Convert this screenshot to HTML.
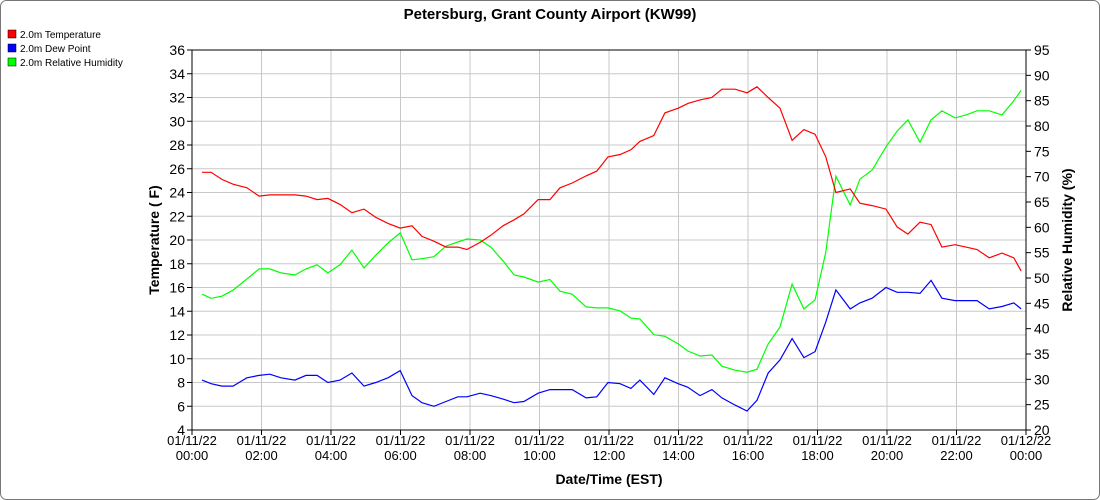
<!DOCTYPE html>
<html><head><meta charset="utf-8"><style>
html,body{margin:0;padding:0;background:#fff;}
svg{display:block;font-family:"Liberation Sans",sans-serif;}
</style></head><body>
<svg id="chart" width="1100" height="500" viewBox="0 0 1100 500" xmlns="http://www.w3.org/2000/svg">
<rect x="0.5" y="0.5" width="1099" height="499" rx="6" fill="#fff" stroke="#777"/>
<text x="550" y="19" text-anchor="middle" font-size="15" font-weight="bold">Petersburg, Grant County Airport (KW99)</text>
<g font-size="10">
<g><rect x="8" y="30" width="8" height="8" fill="#f00" stroke="#000" stroke-width="0.5"/><text x="20" y="38">2.0m Temperature</text></g>
<g><rect x="8" y="44" width="8" height="8" fill="#00f" stroke="#000" stroke-width="0.5"/><text x="20" y="52">2.0m Dew Point</text></g>
<g><rect x="8" y="58" width="8" height="8" fill="#0f0" stroke="#000" stroke-width="0.5"/><text x="20" y="66">2.0m Relative Humidity</text></g>
</g>
<g id="grid"></g><g id="axes"></g><g id="series"></g>
<text x="609" y="484" text-anchor="middle" font-size="14" font-weight="bold">Date/Time (EST)</text>
<text transform="translate(159,240) rotate(-90)" text-anchor="middle" font-size="14" font-weight="bold">Temperature ( F)</text>
<text transform="translate(1072,240) rotate(-90)" text-anchor="middle" font-size="14" font-weight="bold">Relative Humidity (%)</text>
</svg>
<script>
const hours=[0.29,0.55,0.86,1.18,1.58,1.93,2.24,2.56,2.96,3.28,3.60,3.91,4.26,4.60,4.95,5.29,5.64,5.99,6.33,6.62,6.96,7.31,7.65,7.91,8.29,8.60,8.95,9.27,9.55,9.96,10.30,10.59,10.94,11.34,11.65,11.97,12.32,12.63,12.89,13.29,13.61,13.99,14.27,14.62,14.96,15.25,15.63,15.97,16.26,16.58,16.92,17.27,17.61,17.93,18.24,18.53,18.94,19.22,19.57,19.97,20.29,20.60,20.95,21.27,21.58,21.96,22.27,22.59,22.94,23.31,23.65,23.86];
const temperature=[25.7,25.7,25.1,24.7,24.4,23.7,23.8,23.8,23.8,23.7,23.4,23.5,23.0,22.3,22.6,21.9,21.4,21.0,21.2,20.3,19.9,19.4,19.4,19.2,19.8,20.4,21.2,21.7,22.2,23.4,23.4,24.4,24.8,25.4,25.8,27.0,27.2,27.6,28.3,28.8,30.7,31.1,31.5,31.8,32.0,32.7,32.7,32.4,32.9,32.0,31.1,28.4,29.3,28.9,27.0,24.0,24.3,23.1,22.9,22.6,21.1,20.5,21.5,21.3,19.4,19.6,19.4,19.2,18.5,18.9,18.5,17.4];
const dewPoint=[8.2,7.9,7.7,7.7,8.4,8.6,8.7,8.4,8.2,8.6,8.6,8.0,8.2,8.8,7.7,8.0,8.4,9.0,6.9,6.3,6.0,6.4,6.8,6.8,7.1,6.9,6.6,6.3,6.4,7.1,7.4,7.4,7.4,6.7,6.8,8.0,7.9,7.5,8.2,7.0,8.4,7.9,7.6,6.9,7.4,6.7,6.1,5.6,6.5,8.8,9.9,11.7,10.1,10.6,13.1,15.8,14.2,14.7,15.1,16.0,15.6,15.6,15.5,16.6,15.1,14.9,14.9,14.9,14.2,14.4,14.7,14.2];
const humidity=[46.8,46.0,46.4,47.6,49.8,51.8,51.8,51.0,50.6,51.8,52.6,51.0,52.6,55.5,52.0,54.5,56.9,58.9,53.6,53.8,54.2,56.3,57.1,57.7,57.5,56.1,53.4,50.6,50.2,49.2,49.7,47.4,46.8,44.3,44.1,44.1,43.5,42.1,41.9,38.8,38.5,37.0,35.6,34.6,34.8,32.6,31.8,31.4,32.0,37.0,40.3,48.8,43.9,45.7,55.1,70.1,64.4,69.5,71.3,75.9,79.0,81.2,76.8,81.2,83.0,81.6,82.2,83.0,83.0,82.2,85.0,87.0];
const leftTicks=[4,6,8,10,12,14,16,18,20,22,24,26,28,30,32,34,36];
const rightTicks=[20,25,30,35,40,45,50,55,60,65,70,75,80,85,90,95];
const xTickHours=[0,2,4,6,8,10,12,14,16,18,20,22,24];
const xTickDates=["01/11/22","01/11/22","01/11/22","01/11/22","01/11/22","01/11/22","01/11/22","01/11/22","01/11/22","01/11/22","01/11/22","01/11/22","01/12/22"];
const xTickTimes=["00:00","02:00","04:00","06:00","08:00","10:00","12:00","14:00","16:00","18:00","20:00","22:00","00:00"];

const L=192,R=1026,T=50,B=430;
const xs=h=>L+(R-L)*h/24;
const yl=v=>B-(B-T)*(v-4)/32;
const yr=v=>B-(B-T)*(v-20)/75;
const NS="http://www.w3.org/2000/svg";
function mk(tag,attrs,parent){const e=document.createElementNS(NS,tag);for(const k in attrs)e.setAttribute(k,attrs[k]);parent.appendChild(e);return e;}
const grid=document.getElementById('grid'),axes=document.getElementById('axes'),series=document.getElementById('series');
leftTicks.forEach(v=>{
  const g=mk('line',{x1:L,x2:R,y1:yl(v),y2:yl(v),stroke:'#c8c8c8','stroke-width':1},grid);
  
  
  mk('line',{x1:L-5,x2:L,y1:yl(v),y2:yl(v),stroke:'#000'},axes);
  const t=mk('text',{x:L-7,y:yl(v)+5,'text-anchor':'end','font-size':14},axes);
  
  
  t.textContent=v;
});
rightTicks.forEach(v=>{
  mk('line',{x1:R,x2:R+5,y1:yr(v),y2:yr(v),stroke:'#000'},axes);
  const t=mk('text',{x:R+8,y:yr(v)+5,'font-size':14},axes);
  
  
  t.textContent=v;
});
xTickHours.forEach((h,i)=>{
  const g=mk('line',{x1:xs(h),x2:xs(h),y1:T,y2:B,stroke:'#c8c8c8'},grid);
  
  
  mk('line',{x1:xs(h),x2:xs(h),y1:B,y2:B+5,stroke:'#000'},axes);
  const t=mk('text',{x:xs(h),y:B+15,'text-anchor':'middle','font-size':13},axes);
  
  
  mk('tspan',{x:xs(h),dy:0},t).textContent=xTickDates[i];
  mk('tspan',{x:xs(h),dy:15},t).textContent=xTickTimes[i];
});
const frame=mk('rect',{x:L,y:T,width:R-L,height:B-T,fill:'none',stroke:'#000'},axes);


function line(vals,ys,color,name){
  const p=mk('polyline',{points:vals.map((v,i)=>xs(hours[i]).toFixed(1)+','+ys(v).toFixed(1)).join(' '),fill:'none',stroke:color,'stroke-width':1.2},series);
  
  
}
line(humidity,yr,'#00ff00','humidity-line');
line(dewPoint,yl,'#0000ff','dew-point-line');
line(temperature,yl,'#ff0000','temperature-line');
</script>
</body></html>
